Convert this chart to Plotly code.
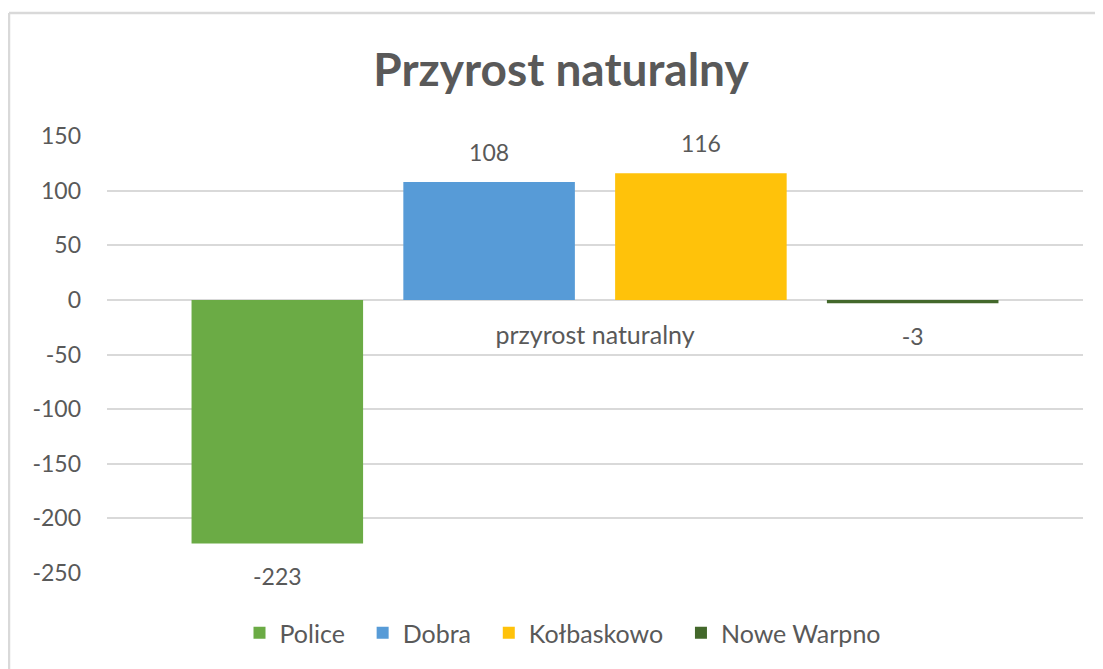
import plotly.graph_objects as go

category = ["przyrost naturalny"]
series_names = ["Police", "Dobra", "Kołbaskowo", "Nowe Warpno"]
series_values = [-223, 108, 116, -3]
series_colors = ["#6bab45", "#579bd7", "#ffc20a", "#43682b"]
y_ticks = [-250, -200, -150, -100, -50, 0, 50, 100, 150]

TXT = "#595959"
FONT = "Lato, 'Open Sans', sans-serif"

# page body has an 8px margin in the browser; figure sized to fit the window
OFF = 8
W, H = 1103 - OFF, 669 - OFF
L, R, T, B = 107 - OFF, 20, 136 - OFF, 96
ph = H - T - B
pw = W - L - R
BARGAP = 0.132
PAD = "\u00a0\u00a0"


def px_x(px):
    return (px - OFF - L) / pw


def px_y(py):
    return (H - B - (py - OFF)) / ph


fig = go.Figure()
for name, val, col in zip(series_names, series_values, series_colors):
    fig.add_trace(go.Bar(
        name=name + PAD, x=category, y=[val], offsetgroup=name,
        marker=dict(color=col, line=dict(width=0)),
        hovertemplate=name + ": %{y}<extra></extra>",
    ))
for name, val in zip(series_names, series_values):
    fig.add_trace(go.Scatter(
        x=category, y=[val], offsetgroup=name, mode="markers+text",
        text=[str(val)], textposition="top center" if val >= 0 else "bottom center",
        marker=dict(size=23 if val >= 0 else 37, opacity=0),
        textfont=dict(size=23, color=TXT, family=FONT),
        showlegend=False, hoverinfo="skip", cliponaxis=False,
    ))

fig.update_layout(
    width=W, height=H,
    margin=dict(l=L, r=R, t=T, b=B),
    paper_bgcolor="white", plot_bgcolor="white",
    barmode="group", bargap=BARGAP, bargroupgap=0.19,
    scattermode="group", scattergap=BARGAP,
    title=dict(text="<b>Przyrost naturalny</b>", x=(561 - OFF) / W, xanchor="center",
               y=1 - (70 - OFF) / H, yanchor="middle",
               font=dict(size=46, color=TXT, family=FONT)),
    font=dict(family=FONT, color=TXT),
    legend=dict(orientation="h", x=px_x(569), xanchor="center", y=px_y(633), yanchor="middle",
                font=dict(size=25, color=TXT, family=FONT), itemwidth=30),
    xaxis=dict(type="category", anchor="free", position=0.625, showline=False,
               ticks="", showgrid=False, tickfont=dict(size=25, color=TXT, family=FONT),
               ticklabelstandoff=18),
    yaxis=dict(range=[-250, 150], tickvals=y_ticks, ticktext=[str(v) for v in y_ticks],
               showline=False, zeroline=False,
               gridcolor="#d9d9d9", gridwidth=1.5,
               tickfont=dict(size=23, color=TXT, family=FONT), ticklabelstandoff=25),
    shapes=[
        dict(type="line", xref="paper", yref="paper", x0=px_x(9), x1=px_x(1110),
             y0=px_y(13), y1=px_y(13), line=dict(color="#d9d9d9", width=2.5)),
        dict(type="line", xref="paper", yref="paper", x0=px_x(9), x1=px_x(9),
             y0=px_y(13), y1=px_y(680), line=dict(color="#d9d9d9", width=2.5)),
    ],
)

fig.write_html("out.html")
